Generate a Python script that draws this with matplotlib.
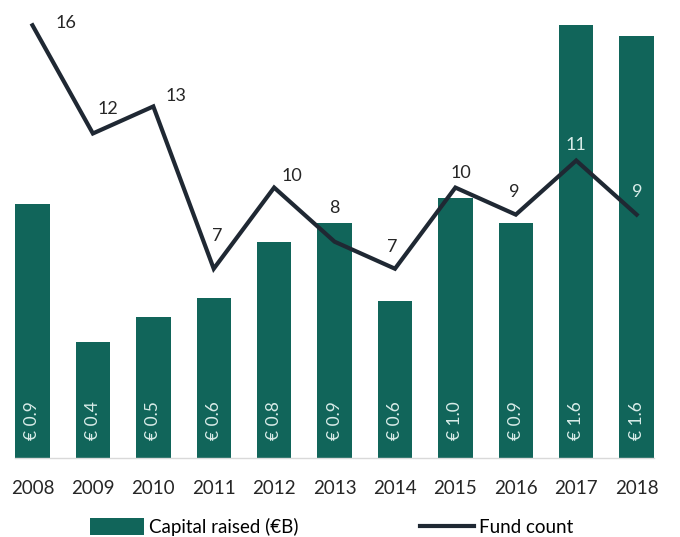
import matplotlib
matplotlib.use("Agg")
import matplotlib.pyplot as plt
from matplotlib.lines import Line2D
from matplotlib.patches import Patch

years = ["2008", "2009", "2010", "2011", "2012", "2013", "2014", "2015", "2016", "2017", "2018"]
capital = [0.94, 0.43, 0.52, 0.59, 0.80, 0.87, 0.58, 0.96, 0.87, 1.60, 1.56]
capital_labels = ["€ 0.9", "€ 0.4", "€ 0.5", "€ 0.6", "€ 0.8", "€ 0.9", "€ 0.6", "€ 1.0", "€ 0.9", "€ 1.6", "€ 1.6"]
fund_count = [16, 12, 13, 7, 10, 8, 7, 10, 9, 11, 9]

BAR = "#11655a"
LINE = "#1f2833"
FONT = ["Lato", "DejaVu Sans"]
plt.rcParams["font.family"] = FONT

fig = plt.figure(figsize=(6.8, 5.37), dpi=100)
ax = fig.add_axes([0.022, 0.147, 0.940, 0.816])
x = list(range(len(years)))
ax.bar(x, capital, width=0.57, color=BAR, zorder=2)
ax.set_xlim(-0.29, 10.29)
ymax = 1.62
ax.set_ylim(0, ymax)
for s in ["top", "right", "left"]:
    ax.spines[s].set_visible(False)
ax.spines["bottom"].set_color("#d9d9d9")
ax.spines["bottom"].set_linewidth(1.0)
ax.set_yticks([])
ax.set_xticks(x)
ax.set_xticklabels(years, fontsize=13.5, color="#262626")
ax.tick_params(axis="x", length=0, pad=16)

for xi, lab in zip(x, capital_labels):
    ax.text(xi, 0.065, lab, rotation=90, ha="center", va="bottom",
            color="#d8ece8", fontsize=12.5, zorder=3)

ax2 = ax.twinx()
ax2.set_ylim(0, ymax * 10)
ax2.axis("off")
ax2.plot(x, fund_count, color=LINE, lw=3, zorder=4, solid_joinstyle="miter")

offsets = [(33, 2), (15, 24), (23, 10), (4, 33), (18, 12), (0, 34), (-3, 22), (5, 15), (-2, 23), (0, 16), (1, 23)]
for xi, v, (dx, dy) in zip(x, fund_count, offsets):
    inside = (v + dy / 27.0) / 10.0 < capital[xi]
    ax2.annotate(str(v), (xi, v), xytext=(dx, dy), textcoords="offset pixels",
                 ha="center", va="center", fontsize=13,
                 color="#d8ece8" if inside else "#262626", zorder=5)

handles = [Patch(facecolor=BAR, edgecolor="none"),
           Line2D([0], [0], color=LINE, lw=3)]
fig.legend(handles, ["Capital raised (€B)", "Fund count"], loc="center",
           bbox_to_anchor=(0.4875, 0.0186), ncol=2, frameon=False, fontsize=13.5,
           handlelength=2.9, handleheight=1.0, handletextpad=0.25, columnspacing=6.5)

fig.savefig("out.png", dpi=100)
